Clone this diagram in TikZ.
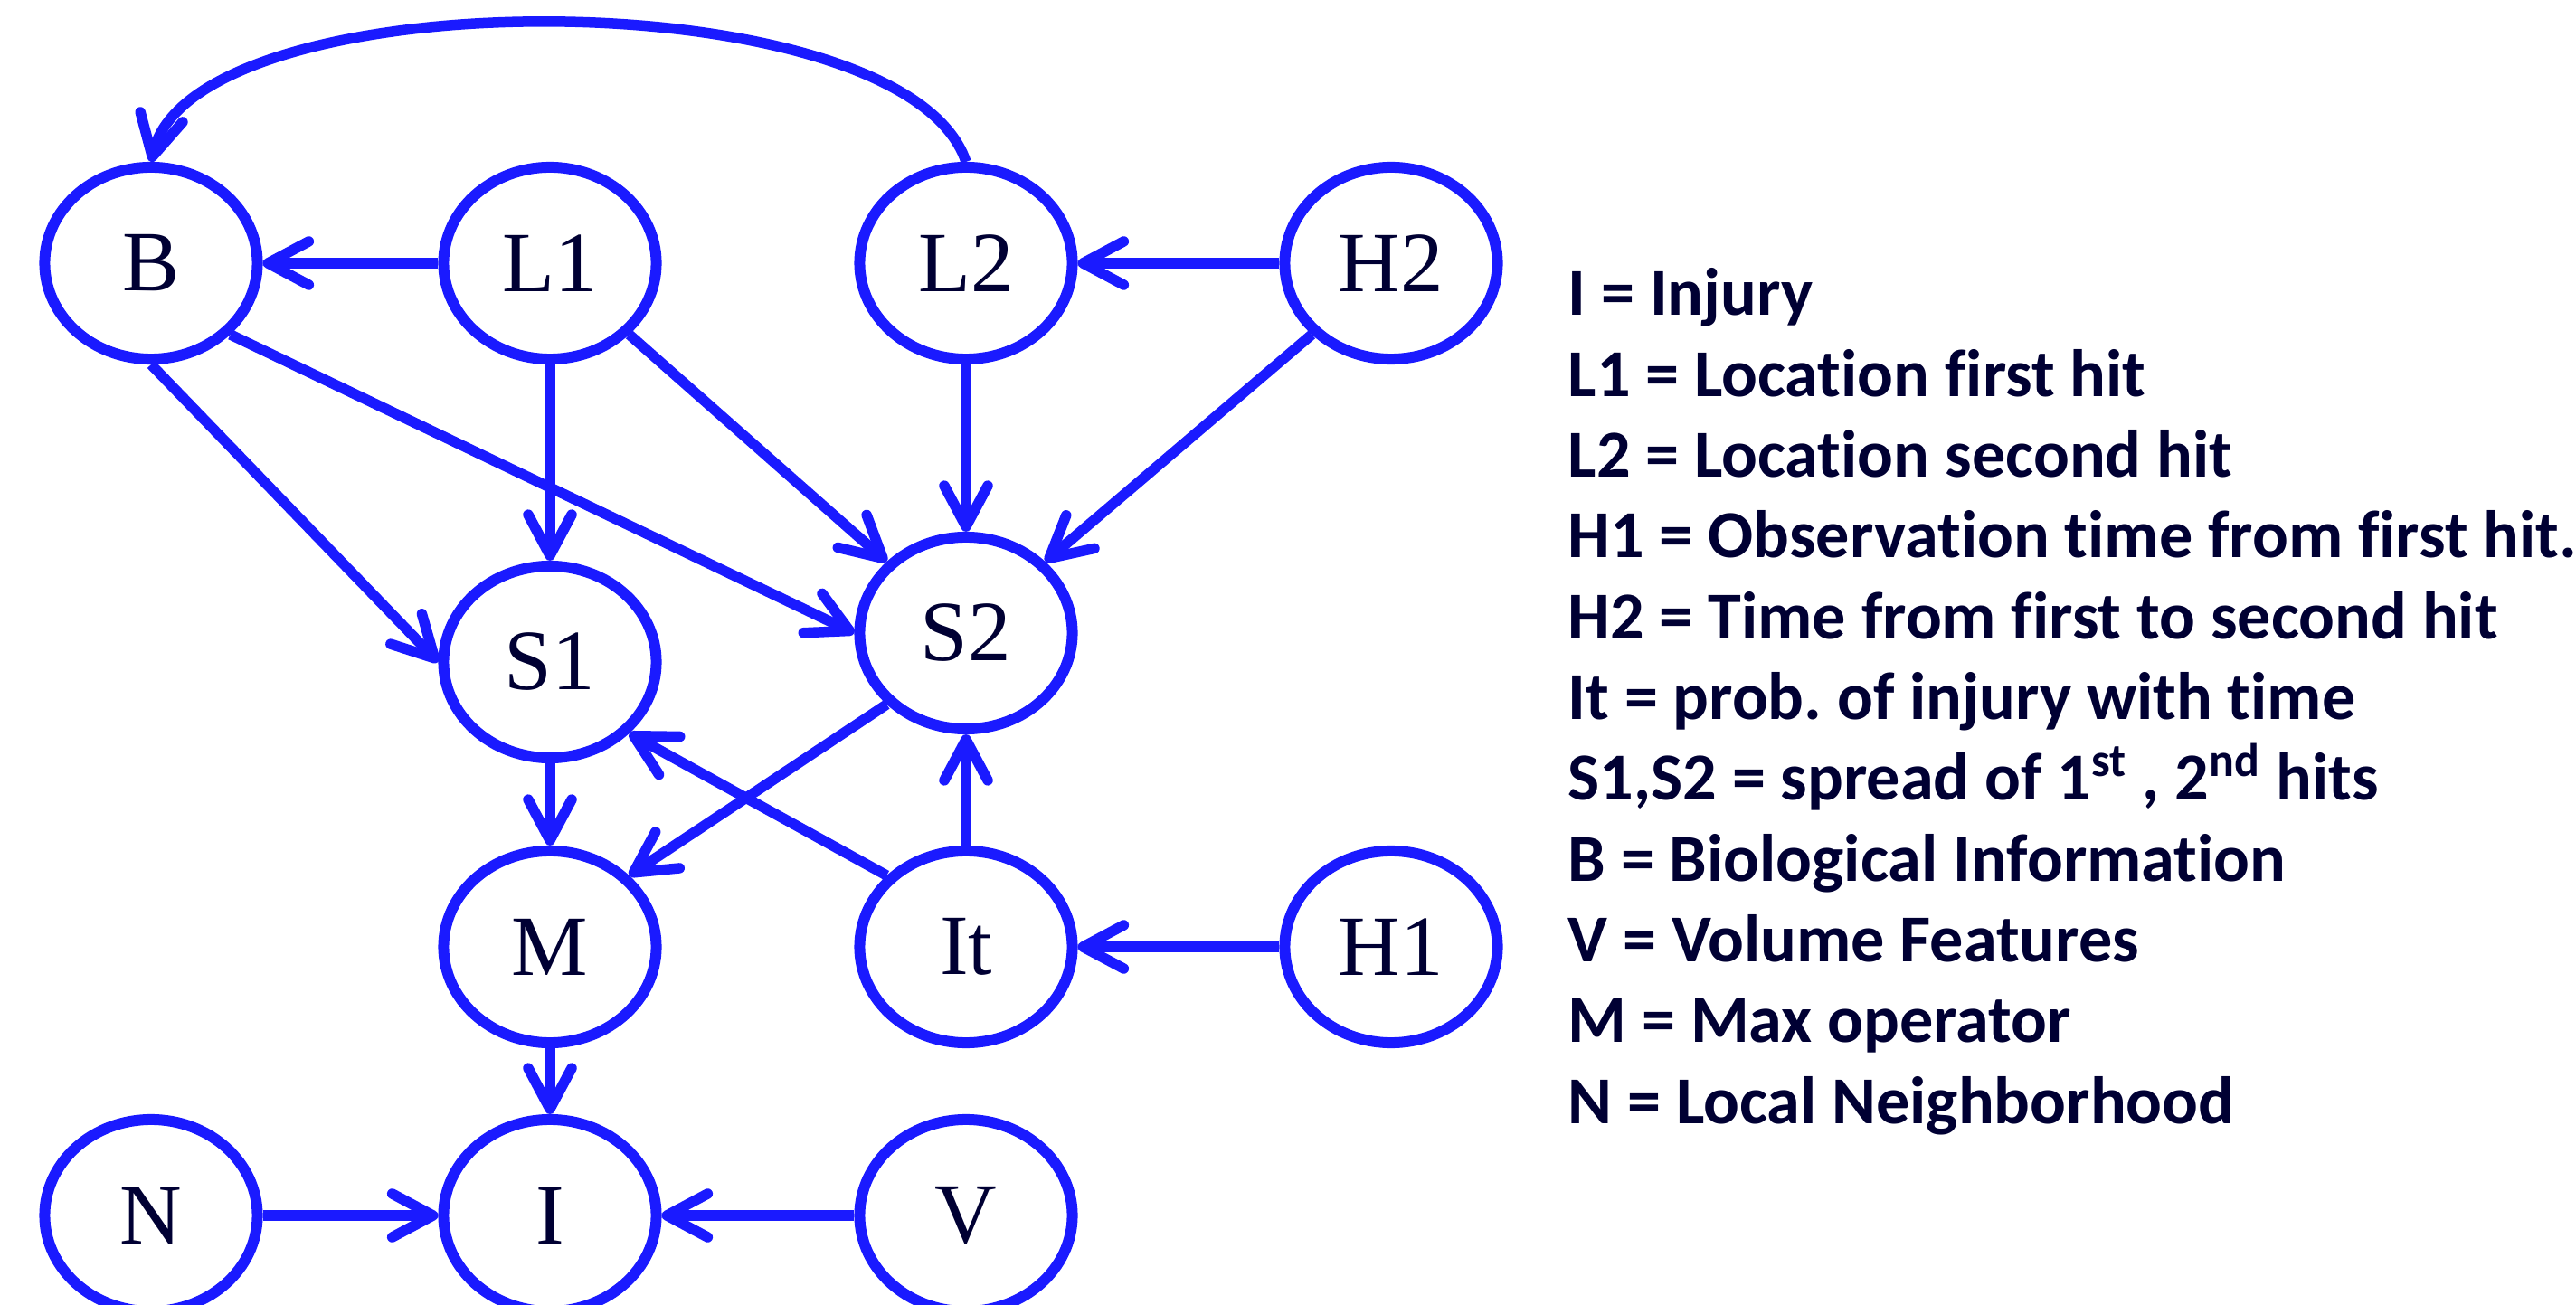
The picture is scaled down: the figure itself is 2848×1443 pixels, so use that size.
\documentclass[tikz,border=0pt]{standalone}
\usepackage{fontspec}
\setmainfont{Liberation Serif}
\newfontfamily\legendfont{Carlito}[Ligatures={NoCommon}]
\usetikzlibrary{arrows.meta,shapes.geometric}
\definecolor{lineblue}{RGB}{26,26,255}
\definecolor{textnavy}{RGB}{0,0,51}
\begin{document}
\begin{tikzpicture}[x=0.01cm,y=-0.01cm,
  var/.style={ellipse, draw=lineblue, line width=0.12cm, minimum width=2.35cm,
    minimum height=2.12cm, inner sep=0pt, text=textnavy,
    font=\fontsize{27}{30}\selectfont},
  conn/.style={draw=lineblue, line width=0.115cm,
    -{Straight Barb[length=0.45cm, width=0.48cm, round]}},
  legend/.style={anchor=base west, inner sep=0pt, text=textnavy,
    font=\legendfont\bfseries\fontsize{21.1}{25}\selectfont}]
\useasboundingbox (0,0) rectangle (2848,1443);
\clip (0,0) rectangle (2848,1443);
% nodes
\node[var] (B)  at (167,291)  {B};
\node[var] (L1) at (608,291)  {L1};
\node[var] (L2) at (1068,291) {L2};
\node[var] (H2) at (1538,291) {H2};
\node[var] (S1) at (608,732)  {S1};
\node[var] (S2) at (1068,700) {S2};
\node[var] (M)  at (608,1047) {M};
\node[var] (It) at (1068,1047) {It};
\node[var] (H1) at (1538,1047) {H1};
\node[var] (N)  at (167,1344) {N};
\node[var] (I)  at (608,1344) {I};
\node[var] (V)  at (1068,1344) {V};
% connectors
\draw[conn] (L1.west) -- (B.east);
\draw[conn] (H2.west) -- (L2.east);
\draw[conn] (B.south) -- (S1.west);
\draw[conn] (B.-42) -- (S2.west);
\draw[conn] (L1.south) -- (S1.north);
\draw[conn] (L1.-42) -- (S2.138);
\draw[conn] (L2.south) -- (S2.north);
\draw[conn] (H2.-138) -- (S2.42);
\draw[conn] (S2.-138) -- (M.42);
\draw[conn] (It.138) -- (S1.-42);
\draw[conn] (S1.south) -- (M.north);
\draw[conn] (It.north) -- (S2.south);
\draw[conn] (H1.west) -- (It.east);
\draw[conn] (M.south) -- (I.north);
\draw[conn] (N.east) -- (I.west);
\draw[conn] (V.west) -- (I.east);
\draw[conn] (L2.north) .. controls (1000,-26) and (215,-26) .. (B.north);
% legend
\node[legend] (t1)  at (1733,349.0)  {I = Injury};
\node[legend] (t2)  at (1733,438.3)  {L1 = Location first hit};
\node[legend] (t3)  at (1733,527.6)  {L2 = Location second hit};
\node[legend] (t4)  at (1733,616.9)  {H1 = Observation time from first hit.};
\node[legend] (t5)  at (1733,706.2)  {H2 = Time from first to second hit};
\node[legend] (t6)  at (1733,795.5)  {It = prob.\ of injury with time};
\node[legend] (t7)  at (1733,884.8)  {S1,S2 = spread of 1\textsuperscript{st} , 2\textsuperscript{nd} hits};
\node[legend] (t8)  at (1733,974.1)  {B = Biological Information};
\node[legend] (t9)  at (1733,1063.4) {V = Volume Features};
\node[legend] (t10) at (1733,1152.7) {M = Max operator};
\node[legend] (t11) at (1733,1242.0) {N = Local Neighborhood};
\end{tikzpicture}
\end{document}
